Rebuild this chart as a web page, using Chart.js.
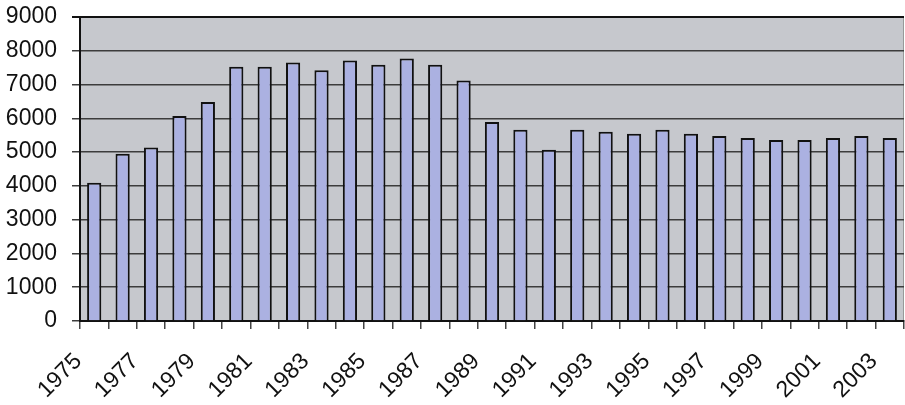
<!DOCTYPE html>
<html>
<head>
<meta charset="utf-8">
<script src="https://cdn.jsdelivr.net/npm/chart.js@4"></script>
<style>
  html, body { margin: 0; padding: 0; background: #fff; }
  #wrap { width: 905px; height: 405px; }
</style>
</head>
<body>
<div id="wrap"><canvas id="chart" width="905" height="405"></canvas></div>
<script>
// years on the x axis
const years = ['1975', '1976', '1977', '1978', '1979', '1980', '1981', '1982', '1983', '1984',
    '1985', '1986', '1987', '1988', '1989', '1990', '1991', '1992', '1993', '1994',
    '1995', '1996', '1997', '1998', '1999', '2000', '2001', '2002', '2003'];

// values
const values = [4090, 4950, 5140, 6070, 6480, 7530, 7530, 7650, 7420, 7710,
    7590, 7770, 7590, 7120, 5890, 5660, 5070, 5660, 5600, 5540,
    5660, 5540, 5480, 5420, 5360, 5360, 5420, 5480, 5420];

const yTicks = [0, 1000, 2000, 3000, 4000, 5000, 6000, 7000, 8000, 9000];

const font = "'Liberation Sans', Arial, Helvetica, sans-serif";

// gray plot background + thin right edge
const plotBg = {
    id: 'plotBg',
    beforeDraw(chart) {
        const { ctx, chartArea: a } = chart;
        ctx.save();
        ctx.fillStyle = '#c6c8cd';
        ctx.fillRect(a.left, a.top, a.right - a.left, a.bottom - a.top);
        ctx.strokeStyle = '#999';
        ctx.lineWidth = 1;
        ctx.beginPath();
        ctx.moveTo(a.right - 0.5, a.top);
        ctx.lineTo(a.right - 0.5, a.bottom);
        ctx.stroke();
        ctx.restore();
    }
};

new Chart(document.getElementById('chart'), {
    type: 'bar',
    data: {
        labels: years,
        datasets: [{
            data: values,
            backgroundColor: '#abb1e1',
            borderColor: '#111',
            borderWidth: 2,
            borderSkipped: 'start',
            barPercentage: 0.5,
            categoryPercentage: 1
        }]
    },
    plugins: [plotBg],
    options: {
        responsive: false,
        animation: false,
        layout: { padding: { top: 17, right: 1, left: 0, bottom: 0 } },
        plugins: {
            legend: { display: false },
            tooltip: { enabled: false }
        },
        scales: {
            x: {
                offset: true,
                afterFit: s => {
                    s.height = 84;
                    s.paddingLeft = 0;
                    s.paddingRight = 0;
                },
                grid: {
                    offset: true,
                    drawOnChartArea: false,
                    drawTicks: true,
                    tickLength: 8,
                    color: '#444',
                    lineWidth: 1.5
                },
                border: { color: '#111', width: 2 },
                ticks: {
                    autoSkip: false,
                    maxRotation: 45,
                    minRotation: 45,
                    padding: 19,
                    labelOffset: -16,
                    color: '#111',
                    font: { family: font, size: 23 },
                    callback: (v, i) => (i % 2 === 0 ? years[i] : '')
                }
            },
            y: {
                min: 0,
                max: 9000,
                afterFit: s => {
                    s.width = 80;
                    s.paddingTop = 0;
                    s.paddingBottom = 0;
                },
                afterBuildTicks: s => { s.ticks = yTicks.map(v => ({ value: v })); },
                grid: {
                    color: c => (c.tick && c.tick.value === 9000 ? '#111' : '#3c3c3c'),
                    lineWidth: c => (c.tick && c.tick.value === 9000 ? 2 : 1.5),
                    tickLength: 8
                },
                border: { color: '#111', width: 2 },
                ticks: {
                    padding: 15,
                    color: '#111',
                    font: { family: font, size: 23 },
                    callback: v => String(v)
                }
            }
        }
    }
});
</script>
</body>
</html>
